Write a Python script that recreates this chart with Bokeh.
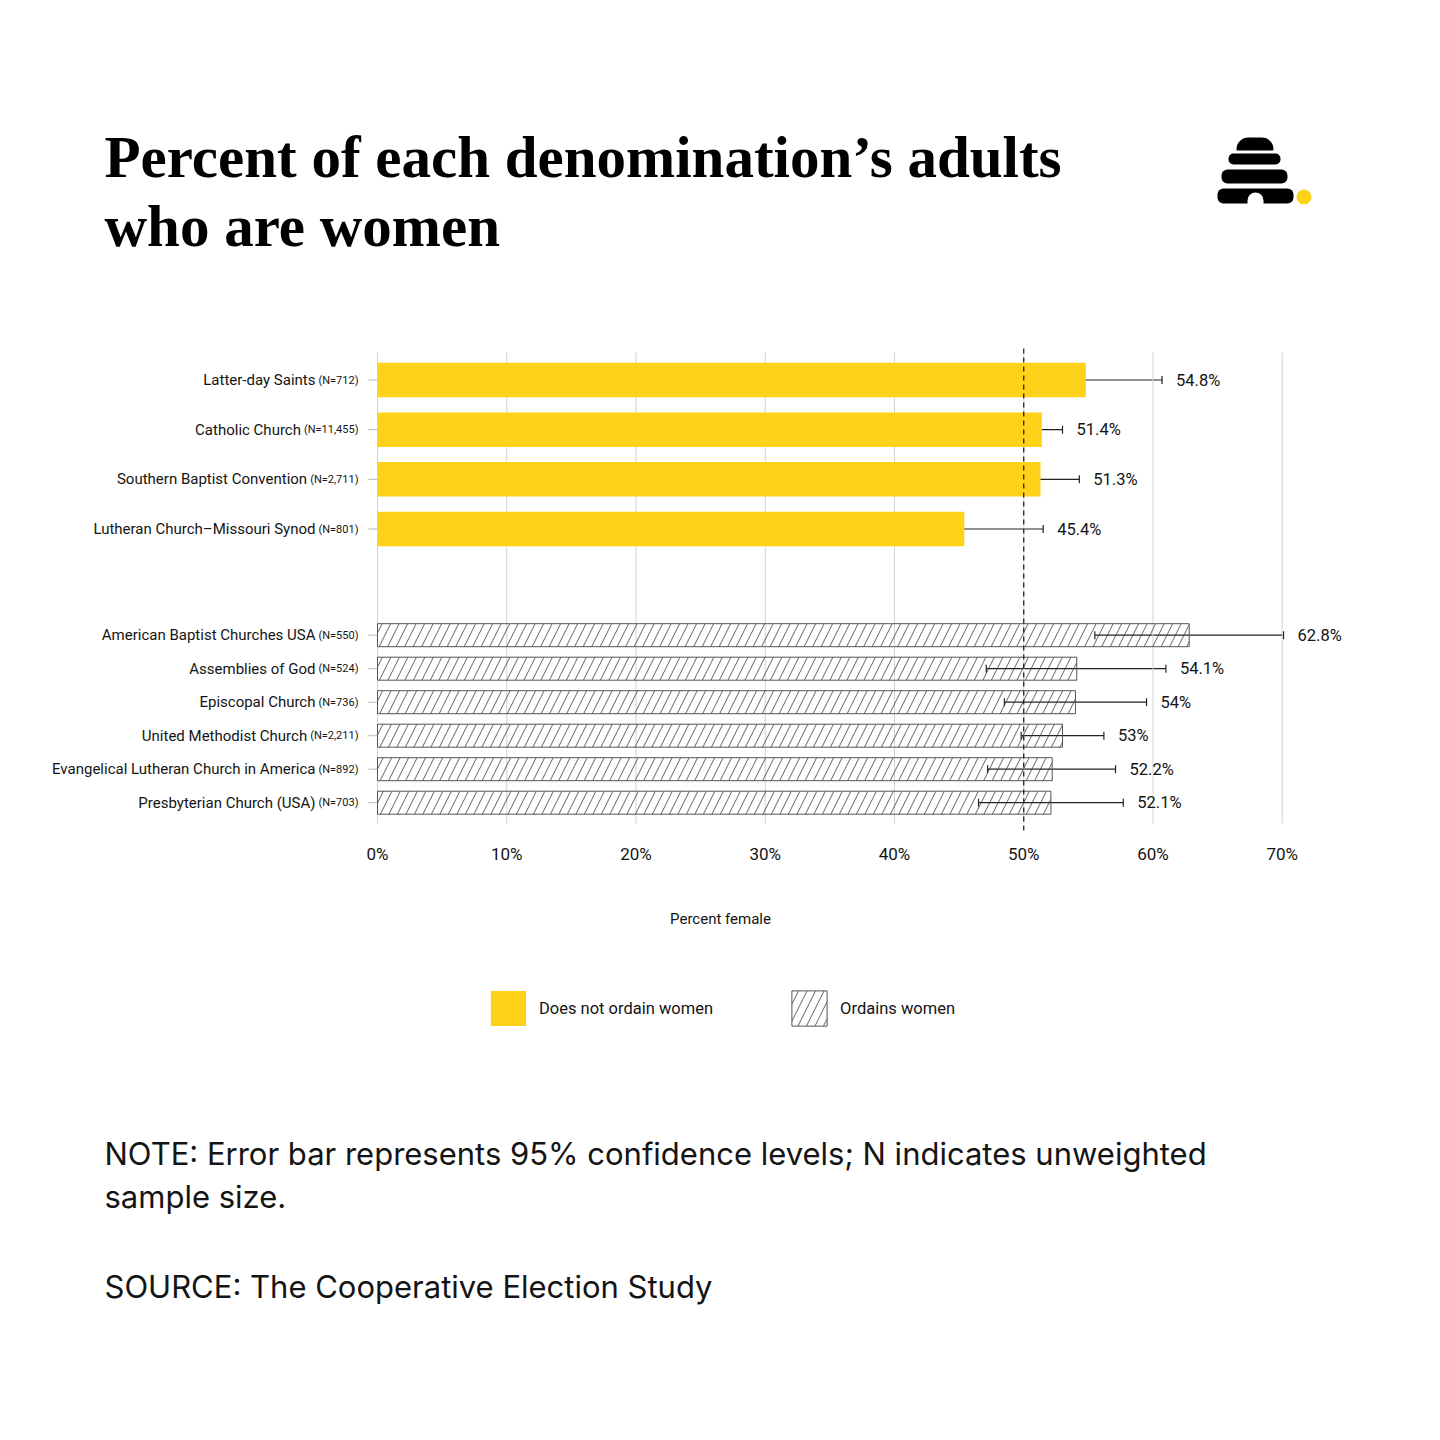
from bokeh.plotting import figure
from bokeh.models import (ColumnDataSource, Whisker, TeeHead, Range1d,
                          Legend, LegendItem, BoxAnnotation)
from bokeh.core.properties import value
from bokeh.embed import file_html
from bokeh.resources import INLINE

# ---------------- data ----------------
no_ordain_names = ["Latter-day Saints", "Catholic Church", "Southern Baptist Convention",
                   "Lutheran Church\u2013Missouri Synod"]
no_ordain_n = ["712", "11,455", "2,711", "801"]
no_ordain_pct = [54.8, 51.4, 51.3, 45.4]
no_ordain_lo = [48.8, 49.7, 48.3, 39.4]
no_ordain_hi = [60.7, 53.0, 54.3, 51.5]

ordain_names = ["American Baptist Churches USA", "Assemblies of God", "Episcopal Church",
                "United Methodist Church", "Evangelical Lutheran Church in America",
                "Presbyterian Church (USA)"]
ordain_n = ["550", "524", "736", "2,211", "892", "703"]
ordain_pct = [62.8, 54.1, 54.0, 53.0, 52.2, 52.1]
ordain_lo = [55.5, 47.1, 48.5, 49.8, 47.2, 46.5]
ordain_hi = [70.1, 61.0, 59.5, 56.2, 57.1, 57.7]

x_ticks = [0, 10, 20, 30, 40, 50, 60, 70]
reference_pct = 50
legend_labels = ["Does not ordain women", "Ordains women"]

title_lines = ["Percent of each denomination\u2019s adults", "who are women"]
note_lines = ["NOTE: Error bar represents 95% confidence levels; N indicates unweighted",
              "sample size."]
source_line = "SOURCE: The Cooperative Election Study"
x_title = "Percent female"

# ---------------- styling / layout ----------------
NARROW = "Roboto"
SERIF = "Liberation Serif"
SANS = "Inter"
YELLOW = "#FFD21A"
INK = "#141414"

W = H = 1424
X0 = 377          # screen x of 0 %
S = 12.925        # px per percentage point
FT = 350          # screen y of the plot area top (y data = px below it)

def dx(px):
    return (px - X0) / S

def dy(py):
    return py - FT

# row layout (px below plot top)
G1_START, G1_STEP, G1_H = 29.5, 49.67, 34.5
G2_START, G2_STEP, G2_H = 284.7, 33.5, 23
ys1 = [G1_START + G1_STEP * i for i in range(len(no_ordain_names))]
ys2 = [G2_START + G2_STEP * i for i in range(len(ordain_names))]

N_SIZE, NAME_SIZE, VAL_SIZE, TICK_SIZE = 11, 15, 16.5, 17
AXIS_GAP = 19
CW = {"(": .342, ")": .348, "N": .713, "=": .549, ",": .196}
def text_w(s, size):
    return sum(CW.get(c, .562) for c in s) * size

def make_src(names, ns, pct, lo, hi, ys):
    ntext = [f"(N={n})" for n in ns]
    return ColumnDataSource(dict(
        y=ys, pct=pct, lo=lo, hi=hi, name=names, ntext=ntext,
        vtxt=[f"{v:g}%" for v in pct],
        name_off=[-(AXIS_GAP + text_w(t, N_SIZE) + 3) for t in ntext],
    ))

src1 = make_src(no_ordain_names, no_ordain_n, no_ordain_pct, no_ordain_lo, no_ordain_hi, ys1)
src2 = make_src(ordain_names, ordain_n, ordain_pct, ordain_lo, ordain_hi, ys2)

p = figure(width=W, height=H, x_range=Range1d(dx(0), dx(W)), y_range=Range1d(dy(H), dy(0)),
           x_axis_type=None, y_axis_type=None,
           output_backend="svg", toolbar_location=None,
           min_border=0, min_border_left=0, min_border_right=0,
           min_border_top=0, min_border_bottom=0)
p.outline_line_color = None
p.background_fill_color = "white"
p.border_fill_color = "white"

# vertical gridlines limited to the plot area
p.segment(x0=x_ticks, x1=x_ticks, y0=[dy(352)] * len(x_ticks), y1=[dy(823)] * len(x_ticks),
          line_color="#d2d2d2", line_width=1)

# x tick labels
tick_src = ColumnDataSource(dict(x=x_ticks, y=[dy(853)] * len(x_ticks),
                                 t=[f"{t}%" for t in x_ticks]))
p.text(x="x", y="y", text="t", source=tick_src, text_align="center", text_baseline="middle",
       text_font=value(NARROW), text_font_size=f"{TICK_SIZE}px", text_color=INK)

# y tick marks
all_y = ys1 + ys2
p.segment(x0=[dx(X0 - 9)] * len(all_y), x1=[0] * len(all_y), y0=all_y, y1=all_y,
          line_color="#b8b8b8", line_width=1)

# bars
r1 = p.hbar(y="y", left=0, right="pct", height=G1_H, source=src1,
            fill_color=YELLOW, line_color=None)
r2 = p.hbar(y="y", left=0, right="pct", height=G2_H, source=src2,
            fill_color="white", fill_alpha=0, line_color="#555555", line_width=1,
            hatch_pattern="/", hatch_color="#3a3a3a", hatch_scale=17, hatch_weight=0.8)

# 50 % reference line
p.segment(x0=[reference_pct], x1=[reference_pct], y0=[dy(348)], y1=[dy(832)],
          line_color=INK, line_dash="5 4", line_width=1.2)

# error bars, value labels, row labels
for src in (src1, src2):
    p.add_layout(Whisker(source=src, base="y", lower="lo", upper="hi", dimension="width",
                         line_color="#222222", line_width=1.2,
                         upper_head=TeeHead(size=8, line_color="#222222", line_width=1.2),
                         lower_head=TeeHead(size=8, line_color="#222222", line_width=1.2)))
    p.text(x="hi", y="y", text="vtxt", source=src, x_offset=14,
           text_align="left", text_baseline="middle",
           text_font=value(NARROW), text_font_size=f"{VAL_SIZE}px", text_color=INK)
    p.text(x=0, y="y", text="ntext", source=src, x_offset=-AXIS_GAP,
           text_align="right", text_baseline="middle",
           text_font=value(NARROW), text_font_size=f"{N_SIZE}px", text_color=INK)
    p.text(x=0, y="y", text="name", source=src, x_offset="name_off",
           text_align="right", text_baseline="middle",
           text_font=value(NARROW), text_font_size=f"{NAME_SIZE}px", text_color=INK)

# x axis title
p.text(x=[dx(720)], y=[dy(918)], text=[x_title], text_align="center", text_baseline="middle",
       text_font=value(NARROW), text_font_size="15px", text_color=INK)

# legend (glyph box is inset 10 % by Bokeh, so 44 px -> 35 px swatch)
legend = Legend(items=[LegendItem(label=legend_labels[0], renderers=[r1]),
                       LegendItem(label=legend_labels[1], renderers=[r2])],
                orientation="horizontal", location=(486, H - 1030),
                glyph_width=44, glyph_height=44, label_standoff=9, spacing=74,
                padding=0, margin=0, border_line_color=None, background_fill_alpha=0,
                label_text_font=NARROW, label_text_font_size="16.5px",
                label_text_color=INK)
p.add_layout(legend)

# chart title (Bokeh's alphabetic baseline sits ~0.37em low, compensate)
p.text(x=[dx(104)] * 2, y=[dy(178 - 22), dy(247 - 22)], text=title_lines,
       text_baseline="alphabetic", text_align="left", text_font=value(SERIF),
       text_font_style="bold", text_font_size="59px", text_color="#000000")

# note + source
p.text(x=[dx(104)] * 3, y=[dy(1165 - 12), dy(1208 - 12), dy(1298 - 12)],
       text=note_lines + [source_line],
       text_baseline="alphabetic", text_align="left", text_font=value(SANS),
       text_font_size="31px", text_color=INK)

# beehive logo (decorative)
def box(l, r, t, b, color, radius):
    return BoxAnnotation(left=dx(l), right=dx(r), top=dy(t), bottom=dy(b),
                         fill_color=color, fill_alpha=1, line_color=None,
                         border_radius=radius, level="overlay")

for args in [(1236, 1273, 137, 150, "black", (17, 17, 2, 2)),
             (1228, 1280, 153, 164, "black", 5),
             (1221, 1287, 169, 183, "black", 6),
             (1217, 1293, 188, 203, "black", 6),
             (1247, 1263, 192, 205, "white", (8, 8, 0, 0)),
             (1296, 1311, 189, 204, YELLOW, 8)]:
    p.add_layout(box(*args))

open("out.html", "w").write(file_html(p, INLINE))
